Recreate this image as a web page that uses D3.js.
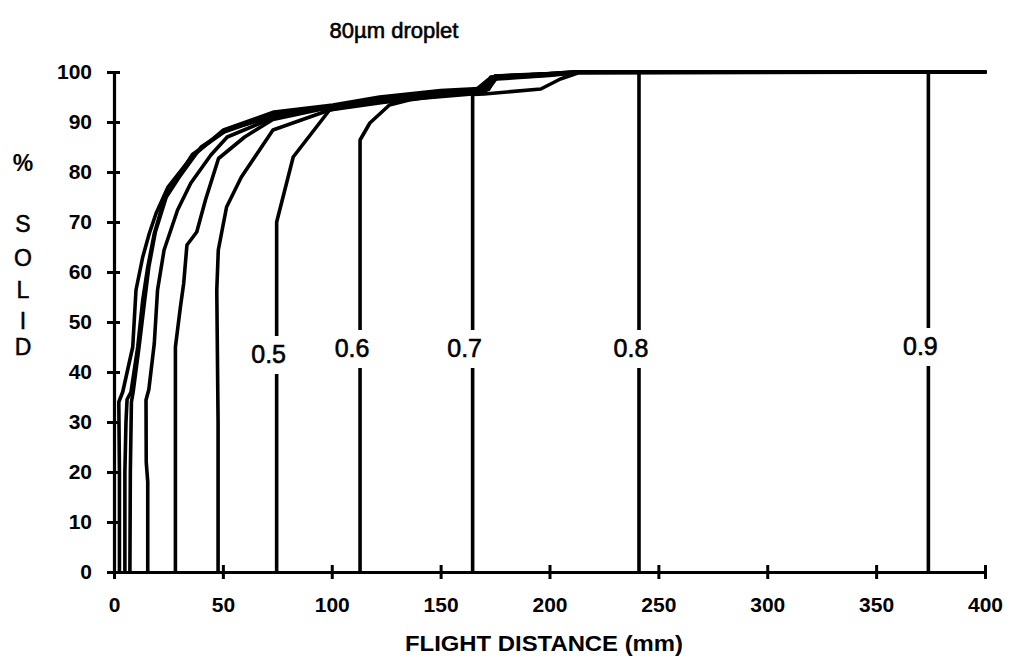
<!DOCTYPE html>
<html>
<head>
<meta charset="utf-8">
<script src="https://cdn.jsdelivr.net/npm/d3@7"></script>
<style>
  html, body { margin: 0; padding: 0; background: #fff; }
  svg { display: block; }
  text { font-family: "Liberation Sans", Arial, Helvetica, sans-serif; fill: #000; }
</style>
</head>
<body>
<svg id="chart" width="1016" height="663"></svg>
<script>
// ---- Data ----
const title = "80\u00b5m droplet";
const xTitle = "FLIGHT DISTANCE (mm)";
const yTitleChars = ["%", "S", "O", "L", "I", "D"];
const xTicks = [0, 50, 100, 150, 200, 250, 300, 350, 400];
const yTicks = [0, 10, 20, 30, 40, 50, 60, 70, 80, 90, 100];

// Curves: flight distance (mm) vs % solid
const curveA_x = [2.5, 2.5, 2.2, 4, 8.6, 10.1, 13.2, 16.2, 19.3, 24.8, 35.6, 50.3, 73.5, 100.5, 122, 150, 172, 175, 200, 210, 400];
const curveA_y = [0, 20, 34, 36, 45, 56.4, 63, 67.7, 71.7, 77, 83, 88.4, 92, 93.4, 95, 96.3, 96.8, 99.2, 99.7, 100, 100];
const curveB_x = [5, 5, 5.5, 6, 7.8, 10.9, 13.2, 15.5, 18.5, 23, 28, 36, 50.5, 73.5, 100, 125, 150, 172, 176, 200, 214, 400];
const curveB_y = [0, 20, 30, 34.5, 36, 45, 54.4, 61, 67.7, 74.4, 78, 83.5, 88, 91.5, 93.2, 95, 96, 96.6, 99, 99.5, 100, 100];
const curveC_x = [7.3, 7.5, 8, 8.8, 11.5, 14, 16, 19, 24, 30, 40, 52, 74, 100, 130, 165, 172, 200, 215, 400];
const curveC_y = [0, 20, 34, 36, 45, 54, 61, 68, 75, 79, 85, 88.5, 91.2, 93, 94.8, 96, 98.5, 99.3, 100, 100];
const curveD_x = [15.5, 15.5, 14.8, 14.7, 16, 18.5, 20, 23, 29.2, 35.3, 44.5, 52, 74, 100, 135, 168, 173, 200, 215, 400];
const curveD_y = [0, 18, 22, 34.4, 36.5, 45.7, 56.4, 64.4, 72.4, 77.8, 83.4, 87, 91, 93, 94.6, 96, 99, 99.5, 100, 100];
const curveE_x = [28.2, 28.2, 30.5, 32, 33.5, 38, 42, 48, 60, 73, 100, 140, 170, 175, 200, 215, 400];
const curveE_y = [0, 45, 53, 57.7, 65.4, 68, 74.4, 82.7, 87, 90.5, 93, 94.7, 95.8, 98.7, 99.4, 100, 100];
const curveF_x = [47.8, 47.8, 47.2, 47.9, 51.7, 58.5, 73, 99, 125, 150, 172, 175, 200, 213, 400];
const curveF_y = [0, 30, 56.4, 64.4, 73, 79, 88.4, 92.4, 94, 95.6, 96.6, 99, 99.5, 100, 100];
const curve05_x = [74.7, 74.7, 82.3, 99, 120, 150, 172, 175, 200, 212, 400];
const curve05_y = [0, 70, 83, 92.4, 94.2, 95.5, 96.5, 99.2, 99.6, 100, 100];
const curve06_x = [113, 113, 117.5, 126.5, 135.5, 150, 170, 174, 200, 212, 400];
const curve06_y = [0, 86.4, 89.8, 93.4, 94.4, 95.3, 96.2, 99, 99.7, 100, 100];
const curve07_x = [164.7, 164.7, 170, 196, 205, 213, 400];
const curve07_y = [0, 95.5, 95.6, 96.6, 98.6, 99.8, 100];
const curve08_x = [241.1, 241.1, 400];
const curve08_y = [0, 100, 100];
const curve09_x = [374, 374, 400];
const curve09_y = [0, 100, 100];

const curveXs = [curveA_x, curveB_x, curveC_x, curveD_x, curveE_x, curveF_x, curve05_x, curve06_x, curve07_x, curve08_x, curve09_x];
const curveYs = [curveA_y, curveB_y, curveC_y, curveD_y, curveE_y, curveF_y, curve05_y, curve06_y, curve07_y, curve08_y, curve09_y];
const curveLabels = ["", "", "", "", "", "", "0.5", "0.6", "0.7", "0.8", "0.9"];
const labelLevel = [null, null, null, null, null, null, 41.8, 43, 43, 43, 43.4];

// ---- Drawing ----
const svg = d3.select("#chart");
const x = d3.scaleLinear().domain([0, 400]).range([114, 985]);
const y = d3.scaleLinear().domain([0, 100]).range([572, 72]);

const line = d3.line().x(d => x(d[0])).y(d => y(d[1]));

const curvesG = svg.append("g");
curveXs.forEach((xs, i) => {
  const pts = xs.map((v, j) => [v, curveYs[i][j]]);
  curvesG.append("path")
    .attr("d", line(pts))
    .attr("fill", "none")
    .attr("stroke", "#000")
    .attr("stroke-width", 3.6)
    .attr("stroke-linejoin", "round")
    .attr("stroke-linecap", "round");
});

// curve labels with white gap behind
const labG = svg.append("g");
curveLabels.forEach((lab, i) => {
  if (!lab) return;
  const cx = x(curveXs[i][0]) - 8;
  const t = labG.append("text")
    .attr("x", cx)
    .attr("y", y(labelLevel[i]))
    .attr("text-anchor", "middle")
    .attr("font-size", "25px")
    .attr("stroke", "#000").attr("stroke-width", 0.6)
    .text(lab);
  const bb = t.node().getBBox();
  labG.insert("rect", "text")
    .attr("x", bb.x - 2)
    .attr("y", bb.y - 4)
    .attr("width", bb.width + 4)
    .attr("height", bb.height + 10)
    .attr("fill", "#fff");
});

// axes
const yAxis = d3.axisLeft(y).tickValues(yTicks).tickSizeOuter(0).tickSizeInner(7);
const gy = svg.append("g").attr("transform", `translate(${x(0)},0)`).call(yAxis);
gy.select(".domain").attr("stroke-width", 3.2);
gy.selectAll(".tick line").attr("x1", 6).attr("x2", -7).attr("stroke-width", 3);
gy.selectAll(".tick text").attr("x", -22).attr("font-size", "21px").attr("font-weight", "bold")
  .attr("font-family", "Liberation Sans, Arial, sans-serif");

const xAxis = d3.axisBottom(x).tickValues(xTicks).tickSizeOuter(0).tickSizeInner(7);
const gx = svg.append("g").attr("transform", `translate(0,${y(0)})`).call(xAxis);
gx.select(".domain").attr("stroke-width", 3.2);
gx.selectAll(".tick line").attr("y1", -7).attr("y2", 7).attr("stroke-width", 3);
gx.selectAll(".tick text").attr("y", 25).attr("font-size", "21px").attr("font-weight", "bold")
  .attr("font-family", "Liberation Sans, Arial, sans-serif");

// titles
svg.append("text")
  .attr("x", 394).attr("y", 38)
  .attr("text-anchor", "middle")
  .attr("font-size", "22px")
  .attr("stroke", "#000").attr("stroke-width", 0.6)
  .text(title);

svg.append("text")
  .attr("x", 405).attr("y", 651)
  .attr("font-size", "22px")
  .attr("font-weight", "bold")
  .attr("textLength", 278)
  .attr("lengthAdjust", "spacingAndGlyphs")
  .text(xTitle);

const yTitleY = [171, 232, 266, 298, 329, 355];
yTitleChars.forEach((c, i) => {
  svg.append("text")
    .attr("x", 23).attr("y", yTitleY[i])
    .attr("text-anchor", "middle")
    .attr("font-size", "23px")
    .attr("font-weight", i === 0 ? "bold" : "normal")
    .attr("stroke", "#000").attr("stroke-width", i === 0 ? 0 : 0.5)
    .text(c);
});
</script>
</body>
</html>
